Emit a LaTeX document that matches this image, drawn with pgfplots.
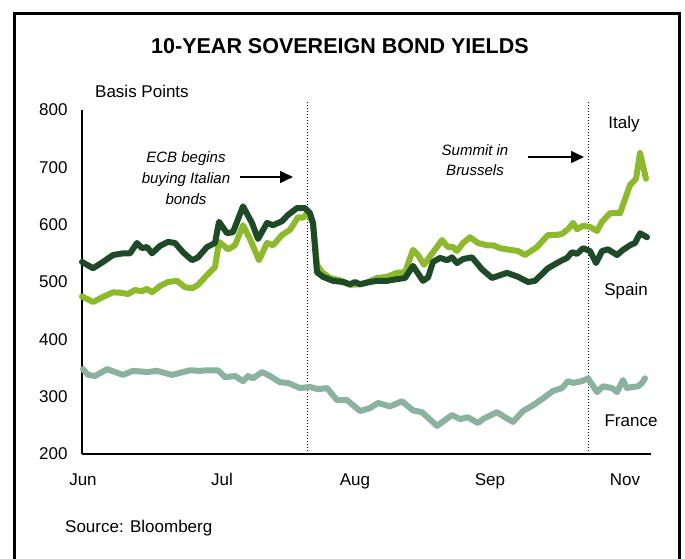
\documentclass[border=0pt]{standalone}
\usepackage{pgfplots}
\pgfplotsset{compat=1.18}
\usepackage{fontspec}
\setmainfont{Liberation Sans}
\usetikzlibrary{arrows.meta}
\definecolor{spain}{RGB}{30,74,40}
\definecolor{italy}{RGB}{141,186,44}
\definecolor{france}{RGB}{138,178,158}
\begin{document}
\begin{tikzpicture}[x=1bp,y=1bp]
\path[use as bounding box] (0,0) rectangle (685,559);
\draw[line width=3bp] (14,-10) -- (14,545.5) -- (679,545.5) -- (679,-10);
\begin{axis}[at={(82bp,105bp)}, anchor=south west, scale only axis,
  width=569bp, height=344bp, xmin=82, xmax=651, ymin=200, ymax=800,
  axis lines=left, axis line style={-, line width=2.5bp, black},
  major tick length=0pt,
  ytick={200,300,...,800},
  xtick={83,222,355,490,625}, xticklabels={Jun,Jul,Aug,Sep,Nov},
  tick label style={font=\fontsize{17bp}{20bp}\selectfont},
  /pgf/number format/assume math mode=true,
  yticklabel style={xshift=-11bp},
  xticklabel style={yshift=-16bp},
  clip=false,
  every axis plot/.append style={line width=6bp, line join=round, line cap=round, mark=none}]
\draw[line width=1bp, dash pattern=on 1bp off 2bp] (axis cs:307,200) -- (axis cs:307,817);
\draw[line width=1bp, dash pattern=on 1bp off 2bp] (axis cs:588,200) -- (axis cs:588,817);
\addplot[france] coordinates {(83,348)(88,338)(95,336)(107,348)(123,338)(133,345)(147,343)(157,345)(172,338)(190,346)(200,345)(207,346)(218,346)(225,334)(235,336)(243,327)(248,336)(253,332)(262,343)(270,336)(280,325)(288,324)(300,315)(310,317)(318,313)(327,315)(337,294)(347,294)(360,275)(370,280)(378,289)(390,283)(402,292)(413,276)(422,273)(437,249)(452,268)(460,261)(468,264)(478,254)(483,261)(497,273)(505,264)(513,256)(523,275)(533,285)(543,297)(553,310)(562,315)(568,327)(573,324)(582,327)(588,332)(597,308)(603,318)(612,315)(617,308)(623,329)(627,315)(633,317)(638,318)(642,324)(645,332)};
\addplot[italy] coordinates {(82,475)(93,465)(103,474)(113,482)(122,481)(128,479)(135,486)(142,484)(147,488)(152,482)(160,493)(168,500)(177,502)(185,491)(192,489)(198,495)(207,512)(215,526)(219,570)(228,557)(235,564)(243,599)(250,575)(259,538)(267,568)(273,564)(282,582)(290,591)(298,613)(303,612)(307,620)(313,603)(317,530)(322,517)(330,507)(340,503)(350,495)(360,496)(368,500)(377,507)(387,509)(397,516)(405,517)(413,556)(418,547)(424,530)(433,552)(442,573)(448,561)(453,561)(457,554)(463,568)(470,578)(478,568)(487,564)(493,564)(500,559)(510,556)(518,554)(525,547)(537,561)(548,582)(557,582)(562,584)(568,592)(573,603)(577,592)(583,598)(590,596)(597,589)(602,605)(610,620)(620,620)(630,669)(636,680)(640,725)(646,680)};
\addplot[spain] coordinates {(82,535)(93,524)(103,535)(113,547)(123,550)(130,550)(137,568)(142,559)(147,561)(152,550)(160,563)(168,570)(175,568)(183,552)(192,538)(198,543)(207,561)(215,568)(219,605)(227,585)(233,587)(243,632)(252,603)(258,575)(267,603)(273,599)(282,606)(288,617)(297,629)(305,629)(310,620)(313,603)(317,517)(323,509)(333,502)(343,500)(350,496)(355,500)(360,496)(370,500)(377,502)(387,502)(397,505)(405,507)(413,528)(423,502)(428,508)(433,535)(440,542)(447,538)(452,543)(457,533)(463,540)(472,543)(482,522)(492,507)(507,516)(518,509)(528,500)(535,502)(548,524)(560,536)(567,542)(572,552)(577,549)(583,559)(590,554)(596,533)(602,554)(608,557)(617,547)(623,556)(630,564)(635,568)(640,585)(647,578)};
\end{axis}
\node[font=\bfseries\fontsize{21.5bp}{25bp}\selectfont] at (340,513) {10-YEAR SOVEREIGN BOND YIELDS};
\node[anchor=west, inner sep=0pt, font=\fontsize{17bp}{20bp}\selectfont] at (95,468) {Basis Points};
\node[anchor=west, inner sep=0pt, font=\fontsize{17bp}{20bp}\selectfont] at (65,31) {Source: Bloomberg};
\node[inner sep=0pt, font=\fontsize{17bp}{20bp}\selectfont] at (624,435) {Italy};
\node[inner sep=0pt, font=\fontsize{17bp}{20bp}\selectfont] at (626,268) {Spain};
\node[inner sep=0pt, font=\fontsize{17bp}{20bp}\selectfont] at (631,138) {France};
\node[inner sep=0pt, align=center, font=\itshape\fontsize{15bp}{21bp}\selectfont] at (186,381) {ECB begins\\buying Italian\\bonds};
\node[inner sep=0pt, align=center, font=\itshape\fontsize{15bp}{20bp}\selectfont] at (475,399) {Summit in\\Brussels};
\draw[line width=1.5bp, -{Triangle[length=13bp, width=12bp]}] (240,382) -- (293,382);
\draw[line width=1.5bp, -{Triangle[length=13bp, width=12bp]}] (528,402) -- (584,402);
\end{tikzpicture}
\end{document}
